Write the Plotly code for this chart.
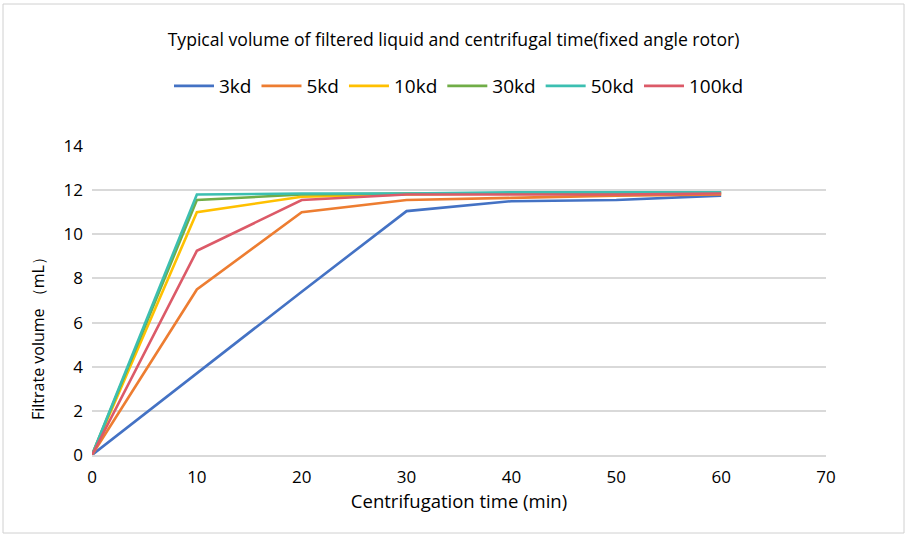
import plotly.graph_objects as go

times = [0, 10, 20, 30, 40, 50, 60]
series_names = ["3kd", "5kd", "10kd", "30kd", "50kd", "100kd"]
v_3kd = [0, 3.7, 7.4, 11.05, 11.5, 11.55, 11.75]
v_5kd = [0, 7.5, 11.0, 11.55, 11.65, 11.75, 11.8]
v_10kd = [0, 11.0, 11.7, 11.8, 11.85, 11.85, 11.85]
v_30kd = [0, 11.55, 11.8, 11.85, 11.85, 11.9, 11.9]
v_50kd = [0, 11.8, 11.85, 11.85, 11.9, 11.9, 11.9]
v_100kd = [0, 9.25, 11.55, 11.8, 11.8, 11.8, 11.85]
colors = ["#4472C4", "#ED7D31", "#FFC000", "#70AD47", "#3CBFB1", "#DC5A68"]
x_ticks = [0, 10, 20, 30, 40, 50, 60, 70]
y_ticks = [0, 2, 4, 6, 8, 10, 12, 14]

FONT = "Open Sans"
fig = go.Figure()
for name, vals, c in zip(series_names, [v_3kd, v_5kd, v_10kd, v_30kd, v_50kd, v_100kd], colors):
    fig.add_trace(go.Scatter(x=times, y=vals, mode="lines", name=name,
                             line=dict(color=c, width=2.6)))

PH = 309
fig.update_layout(
    width=907, height=542,
    margin=dict(l=92, r=81, t=146, b=87),
    paper_bgcolor="white", plot_bgcolor="white",
    font=dict(family=FONT, size=17, color="#000000"),
    title=dict(text="Typical volume of filtered liquid and centrifugal time(fixed angle rotor)",
               x=0.5, xanchor="center", y=1 - 40 / 542, yanchor="middle",
               font=dict(family=FONT, size=17.6, color="#000000")),
    legend=dict(orientation="h", x=0.5, xanchor="center", y=(455 - 86) / PH, yanchor="middle",
                font=dict(family=FONT, size=19), itemwidth=40, tracegroupgap=0),
    xaxis=dict(range=[0, 70], tickvals=x_ticks, showgrid=False, zeroline=False,
               showline=True, linecolor="#D9D9D9", linewidth=1.5,
               ticks="", tickfont=dict(size=17), ticklabelstandoff=6,
               title=dict(text="Centrifugation time (min)", font=dict(size=18.5), standoff=2)),
    yaxis=dict(range=[0, 14], tickvals=y_ticks, showgrid=True, gridcolor="#D9D9D9", gridwidth=1.5,
               zeroline=False, showline=False, ticks="", tickfont=dict(size=17), ticklabelstandoff=8),
    annotations=[dict(text="Filtrate volume （mL）", textangle=-90, showarrow=False,
                      xref="paper", yref="paper",
                      x=(38 - 92) / 734, y=(455 - 335) / PH, xanchor="center", yanchor="middle",
                      font=dict(family=FONT, size=16))],
    shapes=[dict(type="rect", xref="paper", yref="paper",
                 x0=(3 - 92) / 734, x1=(904 - 92) / 734,
                 y0=(455 - 533) / PH, y1=(455 - 4) / PH,
                 line=dict(color="#D0D0D0", width=1), fillcolor="rgba(0,0,0,0)", layer="below")],
)
fig.write_html("out.html", config={"displayModeBar": False},
               post_script="document.body.style.margin='0';")
